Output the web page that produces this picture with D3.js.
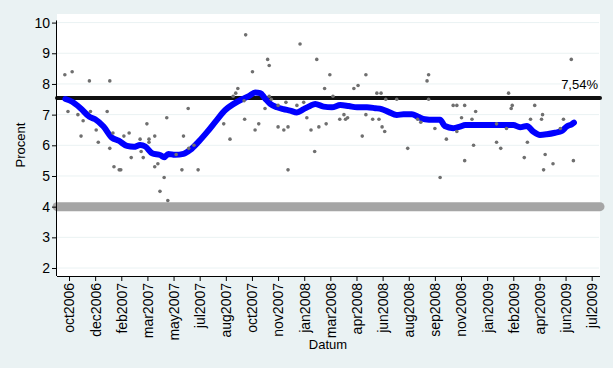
<!DOCTYPE html>
<html>
<head>
<meta charset="utf-8">
<script src="https://cdn.jsdelivr.net/npm/d3@7"></script>
<style>
  body { margin: 0; background: #eaf2f3; }
  svg { display: block; font-family: "Liberation Sans", Arial, sans-serif; }
</style>
</head>
<body>
<svg id="chart" width="613" height="368"></svg>
<script>
// poll results (date, procent)
const pollDates = [
  "2006-10-18","2006-11-01","2006-10-24","2006-11-12","2006-11-22","2006-11-18","2006-12-04","2006-12-06",
  "2006-12-17","2006-12-21","2007-01-12","2007-01-07","2007-01-18","2007-01-12","2007-01-20","2007-01-30",
  "2007-02-02","2007-02-08","2007-02-18","2007-02-22","2007-03-11","2007-03-13","2007-03-17","2007-03-24",
  "2007-03-28","2007-03-28","2007-04-08","2007-04-08","2007-04-14","2007-04-26","2007-04-18","2007-05-03",
  "2007-05-01","2007-05-19","2007-06-02","2007-06-11","2007-05-30","2007-06-30","2007-06-12","2007-06-22",
  "2007-08-18","2007-08-30","2007-09-05","2007-09-10","2007-09-14","2007-09-27","2007-09-26","2007-09-29",
  "2007-10-12","2007-10-17","2007-10-24","2007-11-10","2007-11-13","2007-11-05","2007-11-13","2007-11-17",
  "2007-11-30","2007-11-30","2007-12-11","2007-12-15","2007-12-19","2007-12-19","2008-01-11","2008-01-05",
  "2008-01-18","2008-01-24","2008-02-01","2008-02-08","2008-02-12","2008-02-16","2008-02-27","2008-03-01",
  "2008-03-08","2008-03-14","2008-03-27","2008-04-04","2008-04-07","2008-04-11","2008-04-23","2008-05-01",
  "2008-05-09","2008-05-16","2008-05-16","2008-05-29","2008-06-06","2008-06-14","2008-06-10","2008-06-16",
  "2008-06-21","2008-06-23","2008-07-14","2008-08-04","2008-08-23","2008-08-29","2008-09-10","2008-09-13",
  "2008-09-13","2008-09-25","2008-10-05","2008-10-17","2008-10-30","2008-11-06","2008-11-06","2008-11-15",
  "2008-11-21","2008-11-21","2008-12-05","2008-12-08","2008-12-12","2009-01-21","2009-01-21","2009-01-29",
  "2009-02-13","2009-02-18","2009-02-20","2009-02-09","2009-03-15","2009-03-21","2009-03-27","2009-04-04",
  "2009-04-17","2009-04-19","2009-04-24","2009-04-21","2009-05-09","2009-05-23","2009-05-29","2009-06-13",
  "2009-06-17"
];
const pollValues = [
  8.3, 8.4, 7.1, 7.0, 6.8, 6.3, 8.1, 7.1,
  6.5, 6.1, 8.1, 7.1, 6.4, 5.9, 5.3, 5.2,
  5.2, 6.3, 6.4, 5.6, 6.2, 5.8, 5.6, 6.7,
  6.2, 6.1, 6.3, 5.3, 5.4, 4.95, 4.5, 4.2,
  6.9, 5.7, 6.3, 7.2, 5.2, 5.2, 5.9, 6.0,
  6.7, 6.2, 7.6, 7.7, 7.85, 6.85, 7.45, 9.6,
  8.4, 6.5, 6.7, 8.8, 8.6, 7.2, 7.6, 7.5,
  6.6, 7.3, 6.5, 7.4, 6.6, 5.2, 9.3, 7.3,
  7.4, 6.9, 6.5, 5.8, 8.8, 6.6, 7.85, 6.7,
  8.3, 7.6, 6.85, 7.0, 6.85, 6.9, 7.85, 7.95,
  6.3, 8.3, 7.0, 6.85, 7.7, 7.7, 6.85, 6.6,
  6.45, 7.5, 7.5, 5.9, 6.85, 6.75, 8.1, 8.3,
  7.5, 6.55, 4.95, 6.2, 7.3, 7.3, 6.45, 6.9,
  7.3, 5.5, 6.85, 6.0, 7.1, 6.7, 6.1, 5.9,
  7.7, 7.2, 7.3, 6.55, 5.6, 6.1, 6.85, 7.3,
  6.85, 7.0, 5.7, 5.2, 5.4, 6.55, 6.85, 8.8,
  5.5
];

// moving average
const trendDates = [
  "2006-10-19","2006-11-01","2006-11-17","2006-12-04","2006-12-15","2006-12-31","2007-01-16","2007-01-29",
  "2007-02-14","2007-02-27","2007-03-11","2007-03-21","2007-04-03","2007-04-19","2007-04-26","2007-05-04",
  "2007-05-17","2007-06-02","2007-06-15","2007-07-01","2007-07-17","2007-08-05","2007-08-21","2007-09-06",
  "2007-09-22","2007-10-06","2007-10-17","2007-10-27","2007-11-05","2007-11-15","2007-11-28","2007-12-10",
  "2007-12-23","2008-01-05","2008-01-18","2008-01-30","2008-02-09","2008-02-25","2008-03-12","2008-03-28",
  "2008-04-13","2008-04-29","2008-05-18","2008-06-03","2008-06-15","2008-06-28","2008-07-14","2008-07-27",
  "2008-08-12","2008-08-24","2008-09-06","2008-09-22","2008-10-05","2008-10-14","2008-10-30","2008-11-12",
  "2008-11-22","2008-12-20","2009-01-21","2009-02-22","2009-03-07","2009-03-20","2009-04-01","2009-04-14",
  "2009-04-27","2009-05-13","2009-05-26","2009-06-04","2009-06-14","2009-06-18"
];
const trendValues = [
  7.51, 7.42, 7.21, 6.93, 6.85, 6.61, 6.25, 6.15,
  5.98, 5.95, 6.01, 5.96, 5.74, 5.68, 5.61, 5.72,
  5.69, 5.72, 5.85, 6.12, 6.43, 6.83, 7.15, 7.35,
  7.50, 7.61, 7.72, 7.70, 7.53, 7.35, 7.24, 7.18,
  7.13, 7.07, 7.18, 7.28, 7.35, 7.26, 7.24, 7.31,
  7.28, 7.24, 7.24, 7.21, 7.18, 7.09, 6.99, 7.01,
  7.01, 6.93, 6.85, 6.83, 6.83, 6.63, 6.56, 6.61,
  6.66, 6.66, 6.66, 6.66, 6.59, 6.63, 6.45, 6.34,
  6.36, 6.41, 6.47, 6.61, 6.69, 6.74
];

const xTickDates = [
  "2006-10-26","2006-12-15","2007-02-03","2007-03-25","2007-05-14","2007-07-03","2007-08-22",
  "2007-10-11","2007-11-30","2008-01-19","2008-03-09","2008-04-28","2008-06-17","2008-08-06",
  "2008-09-25","2008-11-14","2009-01-03","2009-02-22","2009-04-13","2009-06-02","2009-07-22"
];
const yTicks = [2, 3, 4, 5, 6, 7, 8, 9, 10];
const xDomain = ["2006-10-03", "2009-08-05"];
const yDomain = [1.74, 10.28];

const meanLine = 7.54;
const meanLabel = "7,54%";
const thresholdLine = 4;

const parse = d3.utcParse("%Y-%m-%d");
const fmt = d3.utcFormat("%b%Y");

const svg = d3.select("#chart");
const W = 613, H = 368;
const plot = {left: 57, right: 599, top: 14, bottom: 276};

const x = d3.scaleUtc().domain(xDomain.map(parse)).range([plot.left, plot.right]);
const y = d3.scaleLinear().domain(yDomain).range([plot.bottom, plot.top]);

svg.append("rect").attr("width", W).attr("height", H).attr("fill", "#eaf2f3");
svg.append("rect")
  .attr("x", plot.left).attr("y", plot.top)
  .attr("width", plot.right - plot.left + 1).attr("height", plot.bottom - plot.top)
  .attr("fill", "#ffffff");

// grid
svg.append("g").selectAll("line").data(yTicks).join("line")
  .attr("x1", plot.left).attr("x2", plot.right)
  .attr("y1", d => y(d)).attr("y2", d => y(d))
  .attr("stroke", "#eaf2f3").attr("stroke-width", 1);

// reference lines
svg.append("line")
  .attr("x1", x.range()[0]).attr("x2", x.range()[1] + 1)
  .attr("y1", y(thresholdLine)).attr("y2", y(thresholdLine))
  .attr("stroke", "#a5a5a5").attr("stroke-width", 9).attr("stroke-linecap", "round");

svg.append("line")
  .attr("x1", x.range()[0]).attr("x2", x.range()[1] + 1)
  .attr("y1", y(meanLine)).attr("y2", y(meanLine))
  .attr("stroke", "#111111").attr("stroke-width", 4).attr("stroke-linecap", "round");

svg.append("text")
  .attr("x", plot.right - 1).attr("y", y(meanLine) - 9)
  .attr("text-anchor", "end").attr("font-size", 13).attr("fill", "#000")
  .text(meanLabel);

// trend
const trend = trendDates.map((d, i) => ({date: parse(d), value: trendValues[i]}));
svg.append("path")
  .datum(trend)
  .attr("fill", "none").attr("stroke", "#0000ff").attr("stroke-width", 6)
  .attr("stroke-linecap", "round").attr("stroke-linejoin", "round")
  .attr("d", d3.line().x(d => x(d.date)).y(d => y(d.value)).curve(d3.curveMonotoneX));

// polls
const polls = pollDates.map((d, i) => ({date: parse(d), value: pollValues[i]}));
svg.append("g").selectAll("circle").data(polls).join("circle")
  .attr("cx", d => x(d.date)).attr("cy", d => y(d.value))
  .attr("r", 1.8).attr("fill", "#6f6f6f");

// axes
const yAxis = d3.axisLeft(y).tickValues(yTicks).tickSize(5).tickPadding(2).tickFormat(d3.format("d"));
const gy = svg.append("g").attr("transform", `translate(${plot.left},0)`).call(yAxis);
gy.select(".domain").attr("d", `M-0.5,${y(10.07)}V${plot.bottom}`).attr("stroke", "#000");
gy.selectAll("text").attr("font-size", 14).attr("fill", "#000").attr("font-family", "Liberation Sans, Arial, sans-serif");

const xAxis = d3.axisBottom(x).tickValues(xTickDates.map(parse)).tickSize(5).tickFormat(d => fmt(d).toLowerCase());
const gx = svg.append("g").attr("transform", `translate(0,${plot.bottom})`).call(xAxis);
gx.select(".domain").attr("d", `M${plot.left},0.5H${plot.right + 1}`).attr("stroke", "#000");
gx.selectAll("text")
  .attr("font-size", 14).attr("fill", "#000").attr("font-family", "Liberation Sans, Arial, sans-serif")
  .attr("text-anchor", "end")
  .attr("transform", "rotate(-90)")
  .attr("x", -7).attr("y", 0).attr("dy", "0.35em");

// titles
svg.append("text")
  .attr("transform", `translate(25,${(plot.top + plot.bottom) / 2}) rotate(-90)`)
  .attr("text-anchor", "middle").attr("font-size", 13).text("Procent");

svg.append("text")
  .attr("x", (plot.left + plot.right) / 2).attr("y", 349)
  .attr("text-anchor", "middle").attr("font-size", 13).text("Datum");
</script>
</body>
</html>
